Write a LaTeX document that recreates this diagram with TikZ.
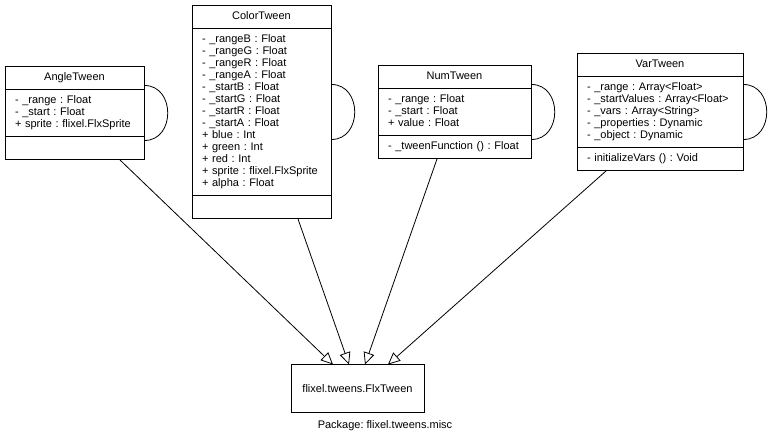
\documentclass[tikz,border=0pt]{standalone}
\usepackage{fontspec}
\setmainfont{Liberation Sans}
\usetikzlibrary{shapes.multipart,arrows.meta}
\frenchspacing
\newcommand\clsname[1]{\hspace*{\fill}#1\hspace*{\fill}}

\begin{document}
\begin{tikzpicture}[
  x=1pt, y=-1pt,
  font=\fontsize{11}{12}\selectfont,
  cls/.style={draw, line width=1pt, rectangle split, rectangle split parts=3,
    align=left, anchor=north, inner xsep=10pt, inner ysep=5pt},
  pkg/.style={draw, line width=1pt, minimum width=133pt, minimum height=48pt},
  gen/.style={draw, line width=0.8pt, -{Triangle[open, length=12pt, width=11pt]}},
  self/.style={draw, line width=0.8pt},
]
\useasboundingbox[fill=white] (0,0) rectangle (774,443);

% ---------------- the four tweens ----------------
\node[cls, text width=119pt] (angle) at (74.5,66)
  {\strut\clsname{AngleTween}\strut
   \nodepart{two}\strut - \_range : Float\\
   - \_start : Float\\
   + sprite : flixel.FlxSprite\strut
   \nodepart{three}\strut};

\node[cls, text width=119pt] (color) at (261.5,5)
  {\strut\clsname{ColorTween}\strut
   \nodepart{two}\strut - \_rangeB : Float\\
   - \_rangeG : Float\\
   - \_rangeR : Float\\
   - \_rangeA : Float\\
   - \_startB : Float\\
   - \_startG : Float\\
   - \_startR : Float\\
   - \_startA : Float\\
   + blue : Int\\
   + green : Int\\
   + red : Int\\
   + sprite : flixel.FlxSprite\\
   + alpha : Float\strut
   \nodepart{three}\strut};

\node[cls, text width=133pt] (num) at (454.5,65)
  {\strut\clsname{NumTween}\strut
   \nodepart{two}\strut - \_range : Float\\
   - \_start : Float\\
   + value : Float\strut
   \nodepart{three}\strut - \_tweenFunction () : Float\strut};

\node[cls, text width=146pt] (var) at (660,53)
  {\strut\clsname{VarTween}\strut
   \nodepart{two}\strut - \_range : Array<Float>\\
   - \_startValues : Array<Float>\\
   - \_vars : Array<String>\\
   - \_properties : Dynamic\\
   - \_object : Dynamic\strut
   \nodepart{three}\strut - initializeVars () : Void\strut};

% ---------------- the base class ----------------
\node[pkg] (flx) at (357.5,389) {flixel.tweens.FlxTween};
\node (pkglbl) at (385,426) {Package: flixel.tweens.misc};

% self loops
\draw[self] ([yshift=27.5pt]angle.east) .. controls +(31,0) and +(31,0) .. ([yshift=-27.5pt]angle.east);
\draw[self] ([yshift=27.5pt]color.east) .. controls +(31,0) and +(31,0) .. ([yshift=-27.5pt]color.east);
\draw[self] ([yshift=27.5pt]num.east)   .. controls +(31,0) and +(31,0) .. ([yshift=-27.5pt]num.east);
\draw[self] ([yshift=27.5pt]var.east)   .. controls +(31,0) and +(31,0) .. ([yshift=-27.5pt]var.east);

% all of them extend FlxTween
\draw[gen] ([xshift=45.5pt]angle.south) -- ([xshift=-24.5pt]flx.north);
\draw[gen] ([xshift=36.5pt]color.south) -- ([xshift=-8.5pt]flx.north);
\draw[gen] ([xshift=-17.5pt]num.south)  -- ([xshift=7.5pt]flx.north);
\draw[gen] ([xshift=-54pt]var.south)    -- ([xshift=30.5pt]flx.north);

\end{tikzpicture}
\end{document}
